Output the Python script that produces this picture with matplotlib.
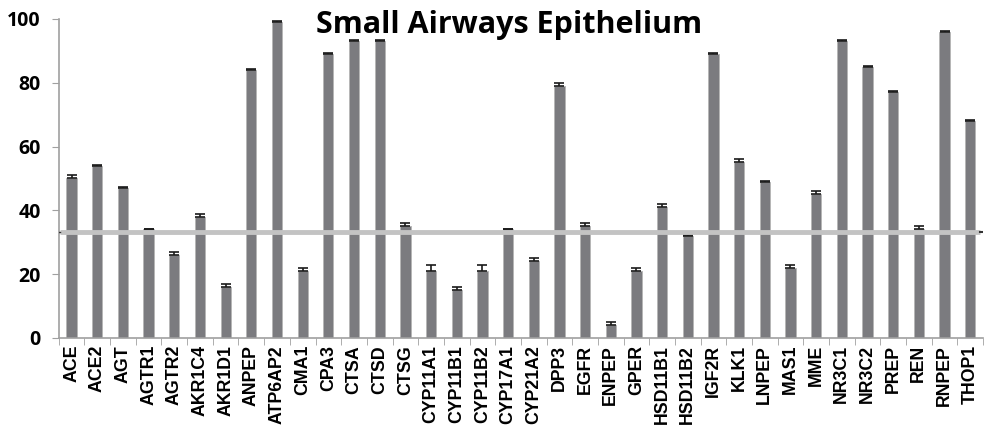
import matplotlib
matplotlib.use('Agg')
import matplotlib.pyplot as plt
import numpy as np

genes = ['ACE', 'ACE2', 'AGT', 'AGTR1', 'AGTR2', 'AKR1C4', 'AKR1D1', 'ANPEP', 'ATP6AP2',
         'CMA1', 'CPA3', 'CTSA', 'CTSD', 'CTSG', 'CYP11A1', 'CYP11B1', 'CYP11B2', 'CYP17A1',
         'CYP21A2', 'DPP3', 'EGFR', 'ENPEP', 'GPER', 'HSD11B1', 'HSD11B2', 'IGF2R', 'KLK1',
         'LNPEP', 'MAS1', 'MME', 'NR3C1', 'NR3C2', 'PREP', 'REN', 'RNPEP', 'THOP1']
values = [50, 54, 47, 34, 26, 38, 16, 84, 99,
          21, 89, 93, 93, 35, 21, 15, 21, 34,
          24, 79, 35, 4, 21, 41, 32, 89, 55,
          49, 22, 45, 93, 85, 77, 34, 96, 68]
errors = [1, 0.3, 0.3, 0.2, 1, 1, 1, 0.3, 0.3,
          1, 0.3, 0.3, 0.3, 1, 2, 1, 2, 0.2,
          1, 1, 1, 1, 1, 1, 0.4, 0.3, 1,
          0.3, 1, 1, 0.3, 0.3, 0.3, 1, 0.3, 0.3]
threshold = 33.3

fig = plt.figure(figsize=(9.96, 4.30), dpi=100)
ax = fig.add_axes([0.059, 0.214, 0.928, 0.742])

x = np.arange(len(genes))
ax.bar(x, values, width=0.4, color='#7b7b7f', edgecolor='#b5b5b5', linewidth=0.6,
       yerr=[np.zeros(len(errors)), errors], error_kw=dict(ecolor='#1a1a1a', elinewidth=1.2,
                                                           capsize=3.5, capthick=1.2))
ax.plot([-0.45, len(genes) - 0.6], [threshold, threshold], color='#c3c3c3', lw=3.5,
        solid_capstyle='butt', zorder=3)
ax.plot([-0.6, -0.45], [threshold, threshold], color='#333333', lw=1, zorder=3)
ax.plot([len(genes) - 0.6, len(genes) - 0.45], [threshold, threshold], color='#333333', lw=1.5, zorder=3)

ax.set_xlim(-0.5, len(genes) - 0.5)
ax.set_ylim(0, 100)
ax.set_yticks([0, 20, 40, 60, 80, 100])
ax.set_yticklabels(['0', '20', '40', '60', '80', '100'], fontfamily='Open Sans',
                   fontweight='bold', fontsize=14)
ax.set_xticks(x)
ax.set_xticklabels(genes, rotation=90, fontfamily='Liberation Sans', fontweight='bold',
                   fontsize=12.8)
ax.set_xticks(np.arange(-0.5, len(genes)), minor=True)
ax.tick_params(axis='x', which='major', length=0, pad=5)
ax.tick_params(axis='x', which='minor', length=5, color='#a0a0a0', direction='out')
ax.tick_params(axis='y', length=5, color='#a0a0a0', direction='out', pad=8)

for s in ['top', 'right']:
    ax.spines[s].set_visible(False)
for s in ['left', 'bottom']:
    ax.spines[s].set_color('#a0a0a0')
    ax.spines[s].set_linewidth(1.2)

fig.text(0.511, 1 - 33 / 430, 'Small Airways Epithelium', ha='center', va='baseline',
         fontfamily='Open Sans', fontweight='bold', fontsize=22)

fig.savefig('out.png', dpi=100)
print('Saved out.png')
